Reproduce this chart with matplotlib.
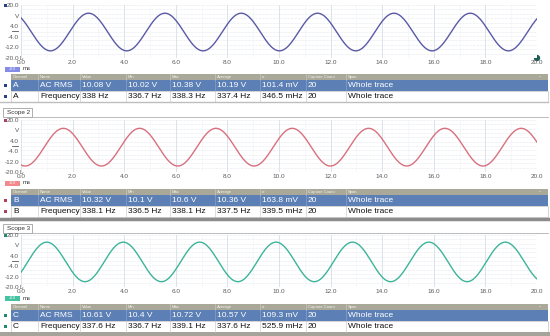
import numpy as np
import matplotlib
matplotlib.use('Agg')
import matplotlib.pyplot as plt
from matplotlib.patches import Rectangle, Circle

# ---------------- data ----------------
channels = ['A', 'B', 'C']
scope_titles = [None, 'Scope 2', 'Scope 3']
amplitudes_v = [14.2, 14.5, 15.2]
offsets_v = [-0.4, -0.9, -0.7]
freqs_hz = [338.0, 338.1, 337.6]
first_peak_ms = [2.62, 1.64, 1.0]

x_ticks = [0, 2, 4, 6, 8, 10, 12, 14, 16, 18, 20]
x_tick_labels = ['0.0', '2.0', '4.0', '6.0', '8.0', '10.0', '12.0', '14.0', '16.0', '18.0', '20.0']
y_ticks = [20, 12, 4, -4, -12, -20]
y_tick_labels = ['20.0', 'V', '4.0', '-4.0', '-12.0', '-20.0']

header = ['Channel', 'Name', 'Value', 'Min', 'Max', 'Average', 'σ', 'Capture Count', 'Span']
rms_rows = [
    ['AC RMS', '10.08 V', '10.02 V', '10.38 V', '10.19 V', '101.4 mV', '20', 'Whole trace'],
    ['AC RMS', '10.32 V', '10.1 V', '10.6 V', '10.36 V', '163.8 mV', '20', 'Whole trace'],
    ['AC RMS', '10.61 V', '10.4 V', '10.72 V', '10.57 V', '109.3 mV', '20', 'Whole trace'],
]
freq_rows = [
    ['Frequency', '338 Hz', '336.7 Hz', '338.3 Hz', '337.4 Hz', '346.5 mHz', '20', 'Whole trace'],
    ['Frequency', '338.1 Hz', '336.5 Hz', '338.1 Hz', '337.5 Hz', '339.5 mHz', '20', 'Whole trace'],
    ['Frequency', '337.6 Hz', '336.7 Hz', '339.1 Hz', '337.6 Hz', '525.9 mHz', '20', 'Whole trace'],
]

# ---------------- style / layout ----------------
trace_colors = ['#5a5aa6', '#d8707f', '#3db49a']
badge_colors = ['#858ce6', '#f2898c', '#45c3a1']
marker_colors = ['#2a3f8c', '#b0405a', '#1f8a70']
plot_px = [(5, 58), (120, 172), (235, 287)]     # (top, bottom) in pixels
table_top = [74, 189, 304]
X0, X1 = 21, 537
col_x = [11, 38, 80, 126, 170, 215, 260, 306, 346]
TAB_R = 548
FONT = 'Liberation Sans'

W, H = 550, 336
fig = plt.figure(figsize=(5.5, 3.36), dpi=100)
fig.patch.set_facecolor('white')
bg = fig.add_axes([0, 0, 1, 1])
bg.set_xlim(0, W)
bg.set_ylim(H, 0)
bg.axis('off')

t = np.linspace(0, 20, 2000)
for i in range(3):
    top, bot = plot_px[i]
    ax = fig.add_axes([X0 / W, 1 - bot / H, (X1 - X0) / W, (bot - top) / H])
    ax.set_xlim(0, 20)
    ax.set_ylim(-20, 20)
    for s in ax.spines.values():
        s.set_visible(False)
    for yv in np.linspace(-20, 20, 13):
        ax.axhline(yv, color='#dfe4ea', lw=0.5, ls=(0, (1, 1)), zorder=0)
    for xv in range(0, 21):
        if xv % 2 == 0:
            ax.axvline(xv, color='#d6dee8', lw=0.6, zorder=0)
        else:
            ax.axvline(xv, color='#e8ecf0', lw=0.5, ls=(0, (1, 1)), zorder=0)
    period = 1000.0 / freqs_hz[i]
    v = offsets_v[i] + amplitudes_v[i] * np.cos(2 * np.pi * (t - first_peak_ms[i]) / period)
    ax.plot(t, v, color=trace_colors[i], lw=1.0, zorder=3)
    ax.set_xticks(x_ticks)
    ax.set_xticklabels(x_tick_labels)
    ax.set_yticks(y_ticks)
    ax.set_yticklabels(y_tick_labels)
    ax.tick_params(length=0, labelsize=4.6, labelcolor='#5a5a5a', pad=1.5)
    for lab in ax.get_xticklabels() + ax.get_yticklabels():
        lab.set_fontfamily(FONT)

    # top-left colour square and zero marker
    bg.add_patch(Rectangle((4, top - 1.5), 3, 3, color=marker_colors[i], lw=0))
    bg.plot([12, 18], [top + 26, top + 26], color='#555555', lw=0.6)
    bg.text(19.5, bot + 0.5, 'D', fontsize=3.5, color='#444444', va='center', ha='left', family=FONT)

    # unit badge
    by = bot + 11
    bg.add_patch(Rectangle((5, by - 2.5), 15, 5, color=badge_colors[i], lw=0))
    bg.text(12.5, by, '+0.0', fontsize=2.6, color='white', ha='center', va='center', family=FONT)
    bg.text(22.5, by, 'ms', fontsize=4.3, color='#333333', ha='left', va='center', family=FONT)

    # table
    ty = table_top[i]
    hh, rh = 5.5, 11
    bg.add_patch(Rectangle((col_x[0], ty), TAB_R - col_x[0], hh, color='#aaa898', lw=0))
    for k, name in enumerate(header):
        bg.text(col_x[k] + 2, ty + hh / 2, name, fontsize=3.0, color='#f4f4f0',
                ha='left', va='center', family=FONT)
        if k > 0:
            bg.plot([col_x[k], col_x[k]], [ty, ty + hh], color='#c9c7ba', lw=0.5)
    bg.text(TAB_R - 8, ty + hh / 2, '-', fontsize=4, color='white', ha='center', va='center')
    y1 = ty + hh
    bg.add_patch(Rectangle((col_x[0], y1), TAB_R - col_x[0], rh, color='#5c80b6', lw=0))
    y2 = y1 + rh
    bg.add_patch(Rectangle((col_x[0], y2), TAB_R - col_x[0], rh, facecolor='white',
                           edgecolor='#c4c4c4', lw=0.5))
    for k in range(1, len(col_x)):
        bg.plot([col_x[k], col_x[k]], [y1, y1 + rh], color='#86a2cc', lw=0.5)
        bg.plot([col_x[k], col_x[k]], [y2, y2 + rh], color='#cfcfcf', lw=0.5)
    row_sets = [(y1, [channels[i]] + rms_rows[i], 'white'), (y2, [channels[i]] + freq_rows[i], '#111111')]
    for yy, cells, col in row_sets:
        bg.add_patch(Rectangle((4, yy + rh / 2 - 1.5), 3, 3, color=marker_colors[i], lw=0))
        for k, c in enumerate(cells):
            bg.text(col_x[k] + 2, yy + rh / 2 + 0.3, c, fontsize=6.0, color=col,
                    ha='left', va='center', family=FONT)

# separators and tabs
bg.plot([0, TAB_R], [102, 102], color='#bdbdbd', lw=1.0)
bg.plot([0, W], [219, 219], color='#8c8c8c', lw=2.5)
bg.add_patch(Rectangle((0, 332), W, 4, color='#a6a49a', lw=0))
for ty0, title in [(108, scope_titles[1]), (224, scope_titles[2])]:
    bg.add_patch(Rectangle((3, ty0), 29, 9, facecolor='white', edgecolor='#a0a0a0', lw=0.6))
    bg.plot([32, TAB_R], [ty0 + 9, ty0 + 9], color='#b0b0b0', lw=0.6)
    bg.text(7, ty0 + 4.7, title, fontsize=4.6, color='#333333', ha='left', va='center', family=FONT)

# small icon at top-right of first plot
bg.add_patch(Circle((537, 58), 3.2, color='#1f5f5a', lw=0, zorder=5))

fig.savefig('out.png', dpi=100, facecolor='white')
